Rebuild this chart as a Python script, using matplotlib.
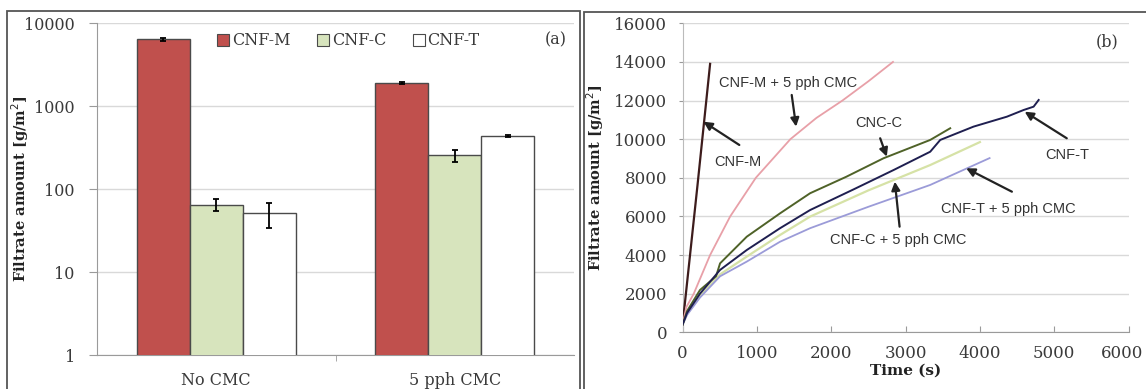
import matplotlib
matplotlib.use("Agg")
import matplotlib.pyplot as plt
import matplotlib.transforms as mtransforms
from matplotlib.patches import Patch, Rectangle

# ---------------- data: panel (a) ----------------
categories = ["No CMC", "5 pph CMC"]
series_names = ["CNF-M", "CNF-C", "CNF-T"]
cnf_m_vals = [6400, 1900]
cnf_m_err = [300, 60]
cnf_c_vals = [65, 255]
cnf_c_err = [11, 45]
cnf_t_vals = [51, 437]
cnf_t_err = [17, 10]
ytick_vals_a = [1, 10, 100, 1000, 10000]
ytick_labels_a = ["1", "10", "100", "1000", "10000"]

# ---------------- data: panel (b) ----------------
t_cnfm = [0, 100, 200, 300, 370]
y_cnfm = [400, 4000, 7600, 11300, 13900]

t_cnfm_cmc = [0, 50, 150, 370, 640, 985, 1450, 1800, 2150, 2500, 2830]
y_cnfm_cmc = [400, 1300, 2000, 4000, 6000, 8000, 10000, 11100, 12000, 13000, 14000]

t_cncc = [0, 60, 234, 450, 504, 863, 1311, 1715, 2200, 2702, 3331, 3600]
y_cncc = [400, 1100, 2190, 2900, 3570, 4950, 6160, 7200, 8050, 9010, 9960, 10565]

t_cnft = [0, 60, 234, 504, 863, 1311, 1715, 2300, 2837, 3331, 3466, 3914, 4363, 4587, 4722, 4790]
y_cnft = [400, 1000, 2000, 3230, 4260, 5390, 6330, 7400, 8400, 9350, 9960, 10650, 11165, 11510, 11683, 12030]

t_cnfc_cmc = [0, 60, 234, 504, 863, 1311, 1715, 2500, 3331, 4000]
y_cnfc_cmc = [400, 950, 1900, 3000, 3920, 5040, 5990, 7350, 8660, 9850]

t_cnft_cmc = [0, 60, 234, 504, 863, 1311, 1715, 2500, 3331, 3825, 4130]
y_cnft_cmc = [400, 900, 1800, 2900, 3660, 4690, 5390, 6500, 7630, 8490, 9020]

xticks_b = [0, 1000, 2000, 3000, 4000, 5000, 6000]
yticks_b = [0, 2000, 4000, 6000, 8000, 10000, 12000, 14000, 16000]

W, H = 1146, 389
fig = plt.figure(figsize=(W / 100, H / 100), dpi=100)

serif = "DejaVu Serif"
sans = "Liberation Sans"
tick_color = "#3a3a3a"
grid_color = "#d9d9d9"
spine_color = "#9a9a9a"

# panel frames
frame_color = "#555555"
fig.add_artist(Rectangle((7 / W, -0.05), (580 - 7) / W, 1.05 - 11 / H,
                         transform=fig.transFigure, fill=False, lw=1.3,
                         edgecolor=frame_color))
fig.add_artist(Rectangle((583.5 / W, -0.05), (W + 10 - 583.5) / W, 1.05 - 12 / H,
                         transform=fig.transFigure, fill=False, lw=1.3,
                         edgecolor=frame_color))

# ---------------- panel (a) ----------------
axa = fig.add_axes([97 / W, (H - 355) / H, 477 / W, 331.7 / H])
bw = 0.222
xs = list(range(len(categories)))
colors = ["#C0504D", "#D7E4BD", "#FFFFFF"]
vals = [cnf_m_vals, cnf_c_vals, cnf_t_vals]
errs = [cnf_m_err, cnf_c_err, cnf_t_err]
for i in range(3):
    pos = [x + (i - 1) * bw for x in xs]
    axa.bar(pos, vals[i], width=bw, color=colors[i], edgecolor="#4a4a4a",
            linewidth=1.0, zorder=3)
    axa.errorbar(pos, vals[i], yerr=errs[i], fmt="none", ecolor="black",
                 elinewidth=1.3, capsize=2.5, capthick=1.3, zorder=4)
axa.set_yscale("log")
axa.set_ylim(1, 10000)
axa.set_xlim(-0.5, 1.5)
axa.set_yticks(ytick_vals_a)
axa.set_yticklabels(ytick_labels_a)
axa.yaxis.set_minor_locator(matplotlib.ticker.NullLocator())
axa.set_xticks(xs)
axa.set_xticklabels(categories)
axa.set_xticks([0.5], minor=True)
axa.tick_params(axis="x", which="major", length=0, pad=12)
axa.tick_params(axis="x", which="minor", length=4, color=spine_color, direction="out")
axa.tick_params(axis="y", length=6, color=spine_color, pad=10)
for lab in axa.get_xticklabels() + axa.get_yticklabels():
    lab.set_fontfamily(serif)
    lab.set_fontsize(11.5)
    lab.set_color(tick_color)
axa.grid(axis="y", color=grid_color, lw=1.0, zorder=0)
for s in ["top", "right"]:
    axa.spines[s].set_visible(False)
axa.spines["left"].set_color(spine_color)
axa.spines["bottom"].set_color(spine_color)
axa.set_ylabel("Filtrate amount [g/m$^2$]", fontfamily=serif, fontweight="bold",
               fontsize=10.5, color="#222222")
axa.yaxis.set_label_coords(-0.138, 0.5)
handles = [Patch(facecolor=c, edgecolor="#4a4a4a", lw=0.8) for c in colors]
leg = axa.legend(handles, series_names, loc="center left", bbox_to_anchor=(0.222, 0.947),
                 ncol=3, frameon=False, handlelength=0.75, handleheight=0.75,
                 handletextpad=0.15, columnspacing=1.7,
                 prop={"family": serif, "size": 11.5})
for t in leg.get_texts():
    t.set_color(tick_color)
axa.text(0.962, 0.95, "(a)", transform=axa.transAxes, ha="center", va="center",
         fontfamily=serif, fontsize=11.5, color=tick_color)

# ---------------- panel (b) ----------------
axb = fig.add_axes([682.6 / W, (H - 332.3) / H, 446 / W, 309 / H])
axb.plot(t_cnfm, y_cnfm, color="#3d1c1c", lw=1.6, zorder=3)
axb.plot(t_cnfm_cmc, y_cnfm_cmc, color="#E8A0A8", lw=1.3, zorder=3)
axb.plot(t_cnfc_cmc, y_cnfc_cmc, color="#D6E2A6", lw=1.6, zorder=3)
axb.plot(t_cnft_cmc, y_cnft_cmc, color="#9B9BD8", lw=1.3, zorder=3)
axb.plot(t_cncc, y_cncc, color="#4F6228", lw=1.4, zorder=3)
axb.plot(t_cnft, y_cnft, color="#1F1F50", lw=1.4, zorder=3)
axb.set_xlim(0, 6000)
axb.set_ylim(0, 16000)
axb.set_xticks(xticks_b)
axb.set_yticks(yticks_b)
axb.tick_params(axis="x", direction="in", length=4, color=spine_color, pad=9)
axb.tick_params(axis="y", direction="out", length=3, color=spine_color, pad=8)
for lab in axb.get_xticklabels() + axb.get_yticklabels():
    lab.set_fontfamily(serif)
    lab.set_fontsize(12)
    lab.set_color(tick_color)
# keep the last x tick label inside the figure
last_lab = axb.get_xticklabels()[-1]
last_lab.set_transform(last_lab.get_transform() +
                       mtransforms.ScaledTranslation(-7 / 100, 0, fig.dpi_scale_trans))
axb.grid(axis="y", color=grid_color, lw=1.0, zorder=0)
for s in ["top", "right"]:
    axb.spines[s].set_visible(False)
axb.spines["left"].set_color("#bbbbbb")
axb.spines["bottom"].set_color(spine_color)
axb.set_ylabel("Filtrate amount [g/m$^2$]", fontfamily=serif, fontweight="bold",
               fontsize=10.5, color="#222222")
axb.yaxis.set_label_coords(-0.172, 0.5)
axb.set_xlabel("Time (s)", fontfamily=serif, fontweight="bold", fontsize=11,
               color="#222222", labelpad=1)
axb.text(5709, 15050, "(b)", ha="center", va="center", fontfamily=serif,
         fontsize=11.5, color=tick_color)

ann = [
    ("CNF-M + 5 pph CMC", (1419, 12895), (1468, 12290), (1527, 10650)),
    ("CNF-M", (739, 8835), (763, 9700), (281, 10905)),
    ("CNC-C", (2634, 10855), (2658, 10047), (2747, 9094)),
    ("CNF-T", (5168, 9182), (5168, 10047), (4602, 11424)),
    ("CNF-T + 5 pph CMC", (4381, 6385), (4430, 7281), (3815, 8493)),
    ("CNF-C + 5 pph CMC", (2904, 4780), (2919, 5469), (2855, 7800)),
]
for text, tpos, tail, tip in ann:
    axb.text(tpos[0], tpos[1], text, ha="center", va="center", fontfamily=sans,
             fontsize=10.5, color="#333333", zorder=5)
    axb.annotate("", xy=tip, xytext=tail,
                 arrowprops=dict(arrowstyle="-|>,head_length=0.5,head_width=0.25",
                                 color="#222222", lw=1.6, shrinkA=0, shrinkB=0),
                 zorder=5)

fig.savefig("out.png", dpi=100)
